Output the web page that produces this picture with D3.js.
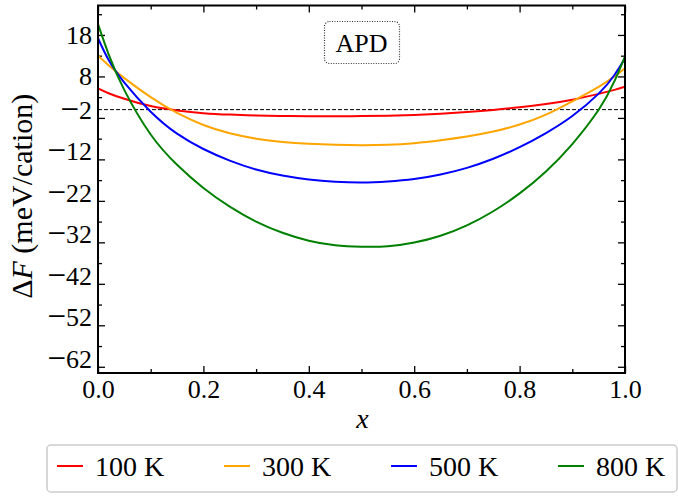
<!DOCTYPE html>
<html>
<head>
<meta charset="utf-8">
<script src="https://cdn.jsdelivr.net/npm/d3@7"></script>
<style>
    body { margin: 0; background: #fff; }
    svg { font-family: "Liberation Serif", "DejaVu Serif", serif; }
</style>
</head>
<body>
<svg id="chart" width="678" height="496"></svg>
<script>
// composition grid
const xs = [0, 0.02, 0.05, 0.1, 0.15, 0.2, 0.25, 0.3, 0.35, 0.4, 0.45, 0.5,
            0.55, 0.6, 0.65, 0.7, 0.75, 0.8, 0.85, 0.9, 0.95, 0.98, 1.0];

// free energy of mixing (meV/cation)
const f100 = [5.1, 3.95, 2.6, 0.85, -0.2, -0.85, -1.2, -1.4, -1.52, -1.58, -1.6, -1.57,
              -1.47, -1.27, -0.97, -0.57, -0.07, 0.55, 1.35, 2.4, 3.8, 4.75, 5.5];
const f300 = [13.0, 10.7, 7.6, 3.0, -0.8, -3.7, -5.7, -7.0, -7.8, -8.25, -8.5, -8.6,
              -8.5, -8.1, -7.4, -6.5, -5.3, -3.6, -1.2, 2.0, 5.5, 8.0, 10.0];
const f500 = [17.2, 12.0, 6.5, -0.5, -5.8, -9.5, -12.3, -14.45, -15.9, -16.85, -17.4, -17.6,
              -17.35, -16.75, -15.65, -14.05, -11.85, -9.05, -5.65, -1.55, 3.85, 8.35, 12.35];
const f800 = [20.6, 13.4, 4.7, -6.0, -13.3, -18.9, -23.4, -27.0, -29.7, -31.6, -32.7, -33.05,
              -32.95, -32.05, -30.4, -27.9, -24.5, -20.2, -14.9, -8.3, -0.05, 6.85, 12.85];

const seriesNames = ['100 K', '300 K', '500 K', '800 K'];
const seriesColors = ['#ff0000', '#ffa500', '#0000ff', '#008000'];
const seriesValues = [f100, f300, f500, f800];

const xTicks = [0, 0.2, 0.4, 0.6, 0.8, 1.0];
const xMinor = [0.1, 0.3, 0.5, 0.7, 0.9];
const yTicks = [-62, -52, -42, -32, -22, -12, -2, 8, 18];
const yMinor = [-57, -47, -37, -27, -17, -7, 3, 13, 23];

const config = {
    margin: {top: 5.5, right: 53, bottom: 123, left: 98},
    width: 678,
    height: 496
};

const width = config.width - config.margin.left - config.margin.right;
const height = config.height - config.margin.top - config.margin.bottom;

const svg = d3.select('#chart');
const chart = svg.append('g')
    .attr('transform', `translate(${config.margin.left},${config.margin.top})`);

const xScale = d3.scaleLinear().domain([0, 1]).range([0, width]);
const yScale = d3.scaleLinear().domain([-63.5, 25.1]).range([height, 0]);

// axes, ticks pointing inward on all four sides
function styleAxis(g) {
    // drop d3's sans-serif so the page font is inherited
    g.attr('font-family', null).attr('font-size', 26);
    g.select('.domain').remove();
    g.selectAll('.tick line').attr('stroke', '#000').attr('stroke-width', 1.3);
}

chart.append('g')
    .attr('transform', `translate(0,${height})`)
    .call(d3.axisBottom(xScale).tickValues(xTicks).tickFormat(d3.format('.1f'))
        .tickSize(-7).tickPadding(7))
    .call(styleAxis);
chart.append('g')
    .attr('transform', `translate(0,${height})`)
    .call(d3.axisBottom(xScale).tickValues(xMinor).tickFormat('').tickSize(-4))
    .call(styleAxis);
chart.append('g')
    .call(d3.axisTop(xScale).tickValues(xTicks).tickFormat('').tickSize(-7))
    .call(styleAxis);
chart.append('g')
    .call(d3.axisTop(xScale).tickValues(xMinor).tickFormat('').tickSize(-4))
    .call(styleAxis);

const yAxisG = chart.append('g')
    .call(d3.axisLeft(yScale).tickValues(yTicks).tickFormat(d3.format('d'))
        .tickSize(-7).tickPadding(6))
    .call(styleAxis);

// wider minus sign, as in the original figure
yAxisG.selectAll('.tick text')
    .filter(d => d < 0)
    .text(null)
    .call(t => {
        t.append('tspan').attr('font-size', 33).attr('dy', '0.04em').text('\u2212');
        t.append('tspan').attr('dy', '-0.04em').text(d => Math.abs(d));
    });

chart.append('g')
    .call(d3.axisLeft(yScale).tickValues(yMinor).tickFormat('').tickSize(-4))
    .call(styleAxis);
chart.append('g')
    .attr('transform', `translate(${width},0)`)
    .call(d3.axisRight(yScale).tickValues(yTicks).tickFormat('').tickSize(-7))
    .call(styleAxis);
chart.append('g')
    .attr('transform', `translate(${width},0)`)
    .call(d3.axisRight(yScale).tickValues(yMinor).tickFormat('').tickSize(-4))
    .call(styleAxis);

// zero reference line
chart.append('line')
    .attr('x1', xScale(0)).attr('x2', xScale(1))
    .attr('y1', yScale(0)).attr('y2', yScale(0))
    .attr('stroke', '#000')
    .attr('stroke-width', 1)
    .attr('stroke-dasharray', '4,2');

// curves
const line = d3.line()
    .x((d, i) => xScale(xs[i]))
    .y(d => yScale(d))
    .curve(d3.curveNatural);

chart.append('clipPath').attr('id', 'plot-clip')
    .append('rect').attr('width', width).attr('height', height);

chart.append('g')
    .attr('clip-path', 'url(#plot-clip)')
    .selectAll('.curve')
    .data(seriesValues)
    .enter()
    .append('path')
    .attr('class', 'curve')
    .attr('fill', 'none')
    .attr('stroke', (d, i) => seriesColors[i])
    .attr('stroke-width', 2)
    .attr('d', line);

// frame
chart.append('rect')
    .attr('width', width)
    .attr('height', height)
    .attr('fill', 'none')
    .attr('stroke', '#000')
    .attr('stroke-width', 2);

// APD label box
chart.append('rect')
    .attr('x', width / 2 - 37)
    .attr('y', 16)
    .attr('width', 75)
    .attr('height', 42)
    .attr('rx', 5)
    .attr('fill', '#fff')
    .attr('stroke', '#333')
    .attr('stroke-width', 1.2)
    .attr('stroke-dasharray', '1,1.5');
chart.append('text')
    .attr('x', width / 2)
    .attr('y', 46)
    .attr('text-anchor', 'middle')
    .attr('font-size', 26)
    .text('APD');

// axis labels
chart.append('text')
    .attr('x', width / 2 + 1)
    .attr('y', height + 55)
    .attr('text-anchor', 'middle')
    .attr('font-size', 28)
    .attr('font-style', 'italic')
    .text('x');

const yLabel = chart.append('text')
    .attr('transform', `translate(${-66},${height / 2 + 7}) rotate(-90)`)
    .attr('text-anchor', 'middle')
    .attr('font-size', 30);
yLabel.append('tspan').text('Δ');
yLabel.append('tspan').attr('font-style', 'italic').text('F');
yLabel.append('tspan').text(' (meV/cation)');

// legend
const legend = svg.append('g').attr('transform', 'translate(47,445)');
legend.append('rect')
    .attr('width', 630)
    .attr('height', 47)
    .attr('rx', 4)
    .attr('fill', '#fff')
    .attr('stroke', '#ccc')
    .attr('stroke-width', 1.5);

const items = legend.selectAll('.item')
    .data(seriesNames)
    .enter()
    .append('g')
    .attr('class', 'item')
    .attr('transform', (d, i) => `translate(${10 + i * 167},0)`);
items.append('line')
    .attr('x1', 0).attr('x2', 26)
    .attr('y1', 21).attr('y2', 21)
    .attr('stroke', (d, i) => seriesColors[i])
    .attr('stroke-width', 2);
items.append('text')
    .attr('x', 38)
    .attr('y', 31)
    .attr('font-size', 28)
    .text(d => d);
</script>
</body>
</html>
